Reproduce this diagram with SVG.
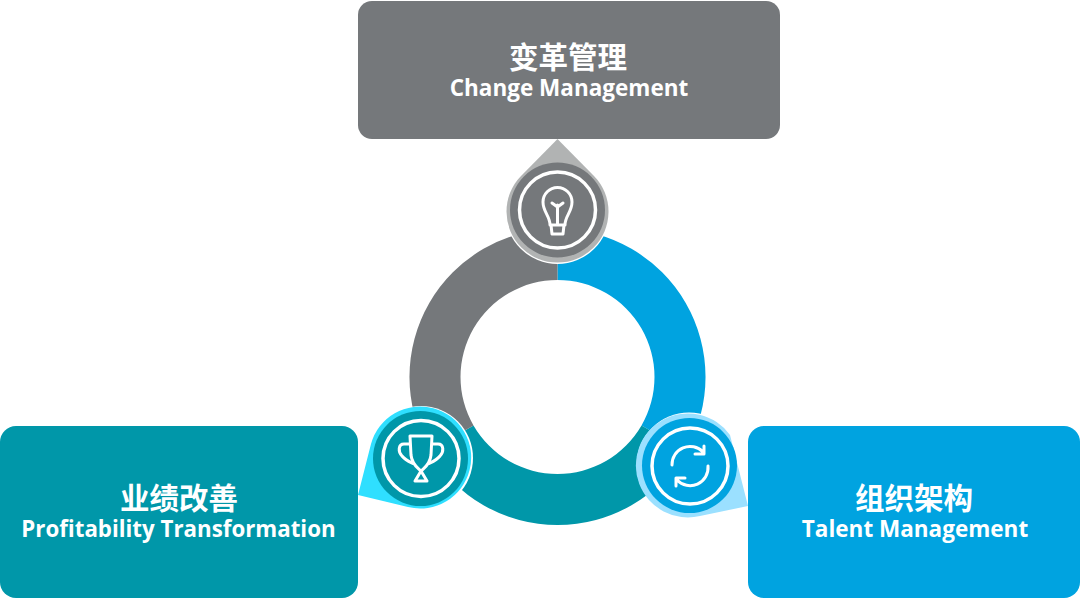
<svg xmlns="http://www.w3.org/2000/svg" width="1080" height="598" viewBox="0 0 1080 598">
<style>
.zh{font:700 29.5px "Noto Sans CJK SC","Noto Sans",sans-serif;fill:#fff;text-anchor:middle}
.en{font:700 22.5px "Open Sans","Noto Sans",sans-serif;fill:#fff;text-anchor:middle}
.ic{fill:none;stroke:#fff;stroke-width:3;stroke-linecap:round;stroke-linejoin:round}
.rg{fill:none;stroke:#fff;stroke-width:3.5}
</style>
<rect width="1080" height="598" fill="#fff"/>
<g id="connectors">
<path d="M557.5 229A148 148 0 0 1 685.7 451L641.5 425.5A97 97 0 0 0 557.5 280Z" fill="#00a3e0"/>
<path d="M685.7 451A148 148 0 0 1 429.3 451L473.5 425.5A97 97 0 0 0 641.5 425.5Z" fill="#0097a9"/>
<path d="M429.3 451A148 148 0 0 1 557.5 229V280A97 97 0 0 0 473.5 425.5Z" fill="#75787b"/>
</g>
<g id="node-change">
<rect x="358" y="1" width="422" height="138" rx="14" fill="#75787b"/>
<text class="zh" x="568" y="68">变革管理</text>
<text class="en" x="569" y="96">Change Management</text>
</g>
<g id="node-profit">
<rect x="0" y="426" width="358" height="172" rx="16" fill="#0097a9"/>
<text class="zh" x="179" y="509">业绩改善</text>
<text class="en" x="178.500" y="537" style="font-size:22.3px">Profitability Transformation</text>
</g>
<g id="node-talent">
<rect x="748" y="426" width="332" height="172" rx="16" fill="#00a3e0"/>
<text class="zh" x="914" y="509">组织架构</text>
<text class="en" x="915" y="537">Talent Management</text>
</g>
<g id="icon-bulb">
<circle cx="557.5" cy="212" r="52" fill="#fff"/>
<path d="M557.5 139L594 176A51 51 0 1 1 521 176Z" fill="#b1b3b3"/>
<circle cx="557.5" cy="210" r="47.5" fill="#75787b"/>
<circle class="rg" cx="557.5" cy="210" r="38"/>
<path class="ic" d="M550 225C550 216 543 212 543 202A14.5 14.5 0 0 1 572 202C572 212 565 216 565 225ZM551 225L552 234H563L564 225M557.5 225V205M552 203L557.5 207L563 203"/>
</g>
<g id="icon-trophy">
<circle cx="421" cy="458" r="52" fill="#fff"/>
<path d="M358 495L371 444A51 51 0 1 1 408 507Z" fill="#2fdfff"/>
<circle cx="420.5" cy="458.5" r="47.5" fill="#0097a9"/>
<circle class="rg" cx="421" cy="458.500" r="38"/>
<path class="ic" d="M410 436H432L431 455C430 465 424 468 421 471C418 468 412 465 411 455ZM410 444H404C398 444 398 452 402 456C405 460 410 462 414 464M432 444H438C444 444 444 452 440 456C437 460 432 462 428 464M421 471L415 481H427Z"/>
</g>
<g id="icon-cycle">
<circle cx="689" cy="465" r="52.500" fill="#fff"/>
<path d="M748 506L730 435A52 52 0 1 0 700 516Z" fill="#9be0ff"/>
<circle cx="689.5" cy="465.5" r="47.5" fill="#00a3e0"/>
<circle class="rg" cx="690" cy="466" r="38"/>
<path class="ic" d="M672 465A18 18 0 0 1 703 452M704 446V454H695M708 466A18 18 0 0 1 677 480M676 486V478H685"/>
</g>
</svg>
